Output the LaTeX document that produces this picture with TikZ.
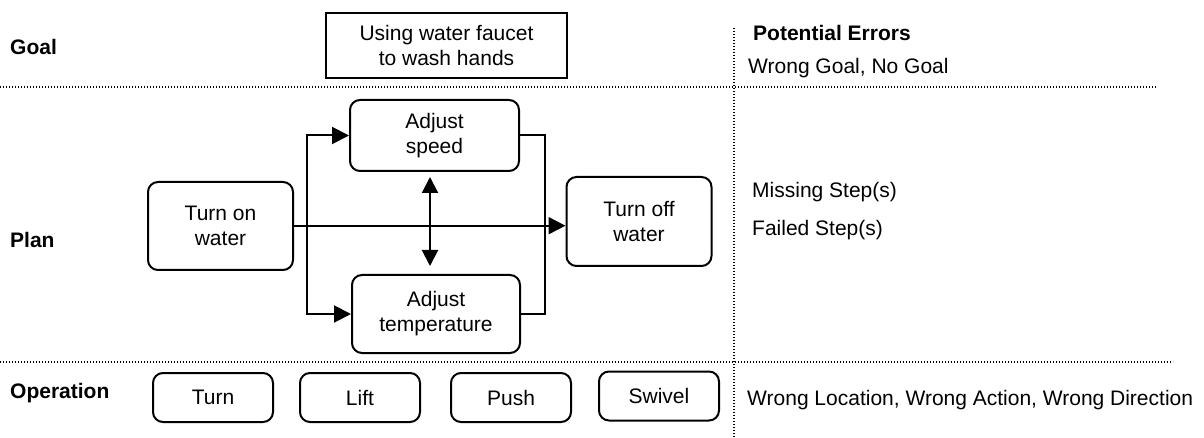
\documentclass[tikz,border=0pt]{standalone}
\usepackage{fontspec}
\setmainfont{Liberation Sans}
\usetikzlibrary{positioning,arrows.meta}

\begin{document}
\begin{tikzpicture}[
    x=1pt, y=-1pt,
    font=\fontsize{21}{25}\selectfont,
    stepbox/.style={
        rectangle, draw, line width=2pt, rounded corners=10pt,
        align=center, inner sep=0pt
    },
    opbox/.style={
        stepbox, minimum width=120pt, minimum height=49pt
    },
    goalbox/.style={
        rectangle, draw, line width=2.4pt, align=center,
        minimum width=241pt, minimum height=65pt
    },
    level/.style={anchor=west, inner sep=0pt, font=\fontsize{21}{25}\selectfont\bfseries},
    err/.style={anchor=west, inner sep=0pt},
    sep/.style={line width=1.2pt, dash pattern=on 1.2pt off 1.8pt},
    arrow/.style={-{Triangle[length=17pt,width=17pt]}, line width=2pt},
    dblarrow/.style={{Triangle[length=16pt,width=16pt]}-{Triangle[length=16pt,width=16pt]}, line width=2pt},
    link/.style={line width=2pt}
]
\useasboundingbox (0,0) rectangle (1204,438);

% level labels
\node[level] (goal) at (10,47)  {Goal};
\node[level] (plan) at (10,240) {Plan};
\node[level] (oper) at (10,393) {Operation};

% goal
\node[goalbox] (faucet) at (446.5,45.3) {Using water faucet\\to wash hands};

% plan
\node[stepbox, minimum width=145pt, minimum height=88pt] (on)    at (220.5,226) {Turn on\\water};
\node[stepbox, minimum width=169pt, minimum height=71pt] (speed) at (434.5,135.5) {Adjust\\speed};
\node[stepbox, minimum width=168pt, minimum height=78pt] (temp)  at (436,314) {Adjust\\temperature};
\node[stepbox, minimum width=145pt, minimum height=89pt] (off)   at (639,221.5) {Turn off\\water};
\coordinate (split) at (306.7,225.7);
\coordinate (merge) at (545,225.7);

\draw[arrow] (on.east |- split) -- (split -| off.west);
\draw[arrow] (split) |- (speed.west);
\draw[arrow] (split) |- (temp.west);
\draw[link] (speed.east) -| (merge);
\draw[link] (temp.east) -| (merge);
\draw[dblarrow] ([xshift=-4.5pt, yshift=-5pt]speed.south) -- ([xshift=-6pt, yshift=8pt]temp.north);

% operation
\node[opbox] (turn) at (213,397.5) {Turn};
\node[opbox, right=25pt of turn] (lift) {Lift};
\node[opbox, right=29pt of lift] (push) {Push};
\node[opbox, right=26pt of push, yshift=1.5pt] (swivel) {Swivel};

% potential errors
\node[level] (errhead) at (753,33) {Potential Errors};
\node[err] (errgoal) at (748,68) {Wrong Goal, No Goal};
\node[err] (errmiss) at (752,192) {Missing Step(s)};
\node[err, below=18pt of errmiss.south west, anchor=north west] (errfail) {Failed Step(s)};
\node[err] (errop) at (747,400) {Wrong Location, Wrong Action, Wrong Direction};

% separators
\draw[sep] (0,87) -- (1157,87);
\draw[sep] (0,362) -- (1173,362);
\draw[sep] (734,28) -- (734,438);
\end{tikzpicture}
\end{document}
